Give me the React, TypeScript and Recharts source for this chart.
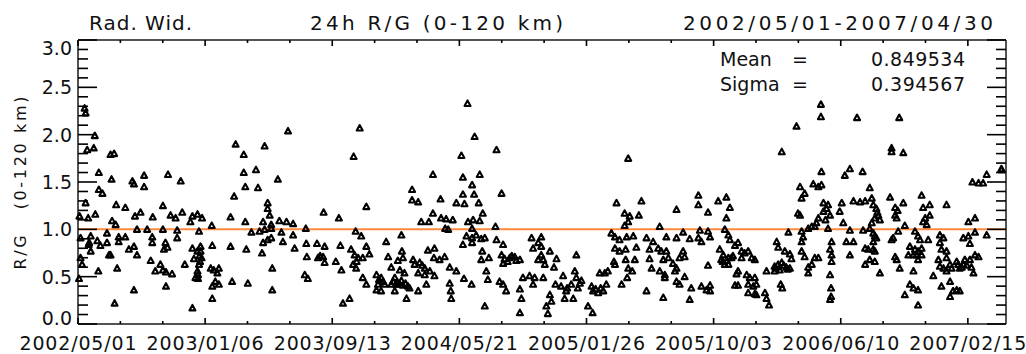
import React from 'react'
import { ScatterChart, Scatter, XAxis, YAxis, ReferenceLine } from 'recharts'

// ---------------------------------------------------------------------------
// Data: [day offset from 2002/05/01, R/G ratio]
// ---------------------------------------------------------------------------

const END_DAY = 1825 // 2007/04/30

const seg2002: [number, number][] = [
  [13, 2.28], [15, 2.23], [33, 1.99], [18, 1.84], [31, 1.86], [64, 1.79], [71, 1.8], [41, 1.6],
  [41, 1.42], [48, 1.38], [66, 1.53], [107, 1.51], [110, 1.48], [130, 1.57], [130, 1.45], [177, 1.58],
  [202, 1.51], [15, 1.28], [75, 1.26], [93, 1.23], [167, 1.25], [3, 1.14], [20, 1.12], [34, 1.16],
  [67, 1.09], [74, 1.05], [112, 1.14], [123, 1.18], [147, 1.13], [182, 1.15], [192, 1.12], [205, 1.18],
  [235, 1.16], [244, 1.12], [263, 1.04], [300, 1.13], [307, 1.35], [5, 0.91], [25, 0.93], [38, 0.88],
  [57, 0.96], [80, 0.92], [93, 0.92], [116, 1.0], [136, 1.0], [146, 0.92], [146, 0.86], [167, 1.0],
  [195, 0.99], [195, 0.91], [21, 0.84], [25, 0.77], [57, 0.86], [80, 0.87], [100, 0.79], [110, 0.82],
  [116, 0.73], [172, 0.86], [176, 0.81], [169, 0.79], [61, 0.73], [64, 0.73], [5, 0.7], [8, 0.63],
  [143, 0.67], [152, 0.56], [162, 0.63], [167, 0.57], [173, 0.55], [185, 0.53], [40, 0.56], [77, 0.59],
  [2, 0.48], [110, 0.36], [173, 0.4], [72, 0.22], [225, 0.17], [210, 0.63], [225, 0.8], [228, 0.69],
  [235, 0.77], [241, 0.82], [241, 0.77], [243, 0.7], [238, 0.63], [235, 0.56], [231, 0.49], [236, 0.48],
  [225, 1.14], [221, 1.08], [238, 0.98], [264, 0.83], [261, 0.59], [267, 0.57], [277, 0.59], [274, 0.54],
  [264, 0.4], [270, 0.45], [277, 0.42], [264, 0.27], [300, 0.82], [303, 0.45], [239, 0.72], [240, 0.66],
  [236, 0.52], [22, 0.86], [44, 0.83],
]

const seg2003: [number, number][] = [
  [310, 1.9], [413, 2.04], [367, 1.88], [326, 1.79], [326, 1.6], [350, 1.63], [329, 1.45], [354, 1.44],
  [393, 1.53], [554, 2.07], [542, 1.77], [567, 1.24], [483, 1.18], [513, 1.12], [373, 1.28], [373, 1.22],
  [377, 1.15], [329, 1.08], [364, 1.08], [380, 1.05], [396, 1.09], [410, 1.08], [423, 1.06], [448, 1.01],
  [341, 0.97], [357, 0.98], [367, 1.0], [380, 1.01], [400, 0.97], [423, 0.94], [546, 0.98], [557, 0.93],
  [331, 0.79], [364, 0.86], [373, 0.89], [380, 0.91], [403, 0.87], [362, 0.75], [426, 0.8], [449, 0.85],
  [470, 0.85], [485, 0.82], [450, 0.71], [472, 0.7], [482, 0.71], [485, 0.65], [507, 0.66], [516, 0.83],
  [518, 0.57], [537, 0.79], [544, 0.73], [541, 0.63], [551, 0.7], [560, 0.7], [567, 0.82], [573, 0.74],
  [547, 0.59], [382, 0.59], [446, 0.52], [452, 0.48], [334, 0.43], [382, 0.36], [521, 0.22], [534, 0.27],
  [560, 0.49], [567, 0.42], [587, 0.52], [590, 0.42], [596, 0.49], [603, 0.42], [587, 0.36], [596, 0.35],
  [592, 0.47], [600, 0.45], [476, 0.72], [548, 0.66],
]

const seg2004: [number, number][] = [
  [766, 2.33], [780, 1.98], [823, 1.84], [754, 1.78], [698, 1.58], [757, 1.55], [790, 1.58], [775, 1.47],
  [657, 1.42], [833, 1.38], [757, 1.37], [779, 1.37], [657, 1.31], [669, 1.29], [713, 1.32], [744, 1.28],
  [760, 1.27], [788, 1.28], [698, 1.17], [796, 1.17], [675, 1.08], [690, 1.08], [714, 1.12], [724, 1.11],
  [737, 1.1], [767, 1.08], [777, 1.1], [790, 1.09], [722, 1.01], [728, 1.0], [775, 1.01], [821, 1.03],
  [636, 0.94], [606, 0.87], [764, 0.93], [775, 0.91], [783, 0.94], [793, 0.9], [800, 0.91], [823, 0.89],
  [836, 0.84], [757, 0.84], [775, 0.86], [795, 0.77], [793, 0.68], [808, 0.7], [610, 0.71], [629, 0.67],
  [637, 0.77], [639, 0.7], [688, 0.78], [701, 0.8], [700, 0.7], [711, 0.68], [721, 0.71], [731, 0.6],
  [744, 0.56], [616, 0.6], [633, 0.57], [642, 0.54], [623, 0.49], [659, 0.68], [662, 0.63], [672, 0.65],
  [682, 0.59], [669, 0.54], [682, 0.52], [701, 0.51], [616, 0.42], [626, 0.42], [633, 0.42], [639, 0.41],
  [649, 0.4], [623, 0.35], [646, 0.27], [669, 0.35], [685, 0.42], [731, 0.43], [733, 0.35], [734, 0.27],
  [759, 0.48], [774, 0.42], [803, 0.56], [806, 0.47], [829, 0.45], [836, 0.42], [842, 0.35], [800, 0.19],
  [833, 0.73], [839, 0.69], [849, 0.7], [859, 0.71], [869, 0.68], [836, 0.64], [869, 0.37], [872, 0.27],
  [869, 0.12], [875, 0.49], [888, 0.51], [898, 0.49], [895, 0.42], [892, 0.91], [895, 0.8], [905, 0.86],
  [905, 0.68], [620, 0.45], [628, 0.44], [636, 0.46], [644, 0.43], [652, 0.38], [845, 0.66], [853, 0.72],
  [862, 0.67], [677, 0.62], [692, 0.56],
]

const seg2005: [number, number][] = [
  [1082, 1.75], [1059, 1.28], [1108, 1.3], [1075, 1.17], [1085, 1.14], [1103, 1.15], [1082, 1.08],
  [1075, 1.04], [1177, 1.21], [1144, 1.03], [911, 0.92], [911, 0.82], [928, 0.77], [911, 0.73],
  [915, 0.68], [918, 0.63], [941, 0.69], [936, 0.6], [980, 0.73], [915, 0.49], [954, 0.51], [977, 0.56],
  [980, 0.49], [970, 0.42], [987, 0.43], [990, 0.46], [939, 0.42], [928, 0.31], [931, 0.24], [921, 0.19],
  [924, 0.11], [960, 0.35], [957, 0.27], [974, 0.27], [1003, 0.19], [1012, 0.12], [1010, 0.4],
  [1013, 0.35], [1023, 0.33], [1033, 0.35], [1039, 0.42], [1026, 0.54], [1036, 0.54], [1042, 0.56],
  [1069, 0.42], [1049, 0.96], [1056, 0.92], [1065, 0.89], [1079, 0.92], [1092, 0.93], [1056, 0.8],
  [1065, 0.77], [1077, 0.79], [1098, 0.81], [1095, 0.68], [1077, 0.68], [1082, 0.59], [1090, 0.56],
  [1054, 0.66], [1056, 0.63], [1080, 0.49], [1118, 0.91], [1131, 0.87], [1124, 0.79], [1124, 0.69],
  [1128, 0.59], [1141, 0.8], [1147, 0.77], [1157, 0.77], [1157, 0.92], [1177, 0.91], [1190, 0.97],
  [1203, 0.9], [1151, 0.68], [1161, 0.7], [1170, 0.64], [1177, 0.59], [1174, 0.56], [1183, 0.7],
  [1190, 0.77], [1193, 0.71], [1154, 0.52], [1154, 0.49], [1144, 0.56], [1177, 0.45], [1183, 0.42],
  [1193, 0.5], [1206, 0.38], [1118, 0.35], [1151, 0.28], [1203, 0.26], [950, 0.4], [962, 0.38],
  [983, 0.38], [1018, 0.37], [1028, 0.38],
]

const seg2006: [number, number][] = [
  [1461, 2.32], [1461, 2.19], [1413, 2.09], [1384, 1.82], [1462, 1.61], [1446, 1.48], [1456, 1.45],
  [1462, 1.47], [1508, 1.57], [1420, 1.45], [1429, 1.38], [1423, 1.33], [1220, 1.36], [1220, 1.26],
  [1239, 1.18], [1259, 1.3], [1275, 1.34], [1282, 1.23], [1275, 1.12], [1416, 1.17], [1420, 1.15],
  [1466, 1.28], [1475, 1.26], [1466, 1.19], [1479, 1.15], [1472, 1.22], [1502, 1.28], [1498, 1.19],
  [1505, 1.07], [1456, 1.12], [1443, 1.03], [1436, 1.01], [1449, 1.03], [1475, 1.01], [1223, 0.99],
  [1239, 0.98], [1243, 0.92], [1272, 1.0], [1279, 0.94], [1220, 0.91], [1226, 0.87], [1397, 0.97],
  [1423, 0.98], [1426, 0.92], [1282, 0.89], [1292, 0.83], [1298, 0.86], [1262, 0.79], [1265, 0.68],
  [1269, 0.73], [1279, 0.7], [1285, 0.7], [1272, 0.63], [1279, 0.63], [1305, 0.77], [1311, 0.75],
  [1318, 0.77], [1305, 0.7], [1325, 0.7], [1331, 0.68], [1374, 0.87], [1377, 0.81], [1390, 0.77],
  [1400, 0.74], [1403, 0.69], [1423, 0.87], [1423, 0.77], [1429, 0.71], [1449, 0.7], [1456, 0.7],
  [1482, 0.87], [1479, 0.79], [1482, 0.73], [1482, 0.66], [1511, 0.87], [1239, 0.62], [1295, 0.53],
  [1298, 0.56], [1315, 0.52], [1321, 0.49], [1331, 0.49], [1354, 0.56], [1370, 0.61], [1377, 0.63],
  [1384, 0.65], [1393, 0.6], [1400, 0.59], [1370, 0.56], [1380, 0.57], [1436, 0.6], [1436, 0.54],
  [1443, 0.63], [1226, 0.4], [1243, 0.41], [1243, 0.35], [1236, 0.36], [1292, 0.41], [1298, 0.41],
  [1318, 0.42], [1328, 0.4], [1334, 0.42], [1318, 0.33], [1331, 0.32], [1334, 0.31], [1351, 0.33],
  [1354, 0.27], [1359, 0.2], [1382, 0.42], [1385, 0.38], [1479, 0.52], [1481, 0.38], [1481, 0.29],
  [1479, 0.26], [1268, 0.66], [1276, 0.67], [1288, 0.72], [1372, 0.59], [1388, 0.62], [1396, 0.58],
  [1452, 1.07], [1470, 1.1],
]

const seg2007: [number, number][] = [
  [1615, 2.18], [1532, 2.18], [1600, 1.86], [1600, 1.82], [1623, 1.81], [1518, 1.64], [1543, 1.61],
  [1816, 1.64], [1816, 1.63], [1787, 1.58], [1759, 1.5], [1771, 1.49], [1780, 1.49], [1557, 1.44],
  [1525, 1.3], [1538, 1.29], [1548, 1.3], [1561, 1.33], [1564, 1.26], [1597, 1.34], [1623, 1.28],
  [1659, 1.36], [1708, 1.26], [1570, 1.22], [1574, 1.15], [1567, 1.12], [1577, 1.1], [1607, 1.23],
  [1607, 1.15], [1610, 1.12], [1662, 1.23], [1675, 1.26], [1675, 1.15], [1666, 1.12], [1662, 1.08],
  [1626, 1.04], [1669, 1.05], [1751, 1.08], [1764, 1.12], [1561, 1.07], [1557, 1.01], [1564, 0.96],
  [1518, 0.99], [1544, 0.99], [1525, 0.87], [1567, 0.93], [1564, 0.87], [1570, 0.91], [1613, 0.98],
  [1600, 0.89], [1603, 0.91], [1646, 0.98], [1652, 0.93], [1656, 0.89], [1672, 0.89], [1695, 0.94],
  [1702, 0.91], [1741, 0.91], [1751, 0.93], [1764, 0.97], [1787, 0.94], [1548, 0.8], [1554, 0.79],
  [1564, 0.79], [1567, 0.77], [1636, 0.82], [1646, 0.79], [1652, 0.77], [1659, 0.8], [1695, 0.86],
  [1698, 0.79], [1708, 0.77], [1708, 0.7], [1754, 0.85], [1764, 0.73], [1771, 0.71], [1518, 0.73],
  [1548, 0.63], [1557, 0.68], [1567, 0.66], [1607, 0.71], [1610, 0.68], [1616, 0.59], [1633, 0.73],
  [1643, 0.73], [1649, 0.73], [1659, 0.73], [1652, 0.68], [1692, 0.68], [1695, 0.61], [1702, 0.59],
  [1708, 0.56], [1715, 0.63], [1718, 0.59], [1728, 0.66], [1734, 0.59], [1741, 0.63], [1744, 0.68],
  [1754, 0.68], [1757, 0.6], [1761, 0.54], [1577, 0.54], [1643, 0.56], [1682, 0.51], [1636, 0.42],
  [1643, 0.38], [1652, 0.36], [1626, 0.31], [1698, 0.4], [1715, 0.45], [1721, 0.35], [1728, 0.36],
  [1734, 0.35], [1715, 0.29], [1652, 0.2], [1731, 0.63], [1738, 0.6], [1748, 0.62], [1572, 1.18],
  [1612, 1.2],
]

const xMajorLabels = [
  '2002/05/01', '2003/01/06', '2003/09/13', '2004/05/21',
  '2005/01/26', '2005/10/03', '2006/06/10', '2007/02/15',
]
const yMajorLabels = ['0.0', '0.5', '1.0', '1.5', '2.0', '2.5', '3.0']

const X_MAJOR_STEP = 250
const Y_MAJOR_STEP = 0.5
const Y_MAX = 3
const REF_LEVEL = 1.0

const statLabels = ['Mean', 'Sigma']
const statValues = ['0.849534', '0.394567']

// ---------------------------------------------------------------------------
// Layout & styling
// ---------------------------------------------------------------------------

const W = 1026
const H = 354
const MARGIN = { top: 30, right: 10, bottom: 0, left: 18 }
const TOP_AXIS_H = 10
const BOTTOM_AXIS_H = 30
const LEFT_AXIS_W = 60
const RIGHT_AXIS_W = 10

// plot frame implied by the margins and axis sizes above
const PLOT = {
  left: MARGIN.left + LEFT_AXIS_W,
  right: W - MARGIN.right - RIGHT_AXIS_W,
  top: MARGIN.top + TOP_AXIS_H,
  bottom: H - MARGIN.bottom - BOTTOM_AXIS_H,
}

const FONT = 'DejaVu Sans'
const AXIS = '#1a1a1a'
const TEXT = '#111'
const ORANGE = '#ff8a3d'

const points = [...seg2002, ...seg2003, ...seg2004, ...seg2005, ...seg2006, ...seg2007].map(
  ([day, ratio]) => ({ day, ratio })
)

// minor ticks: 3 per major interval on x, 5 on y
const xMinorTicks = Array.from({ length: 22 }, (_, i) => (i * X_MAJOR_STEP) / 3)
const yMinorTicks = Array.from({ length: 31 }, (_, i) => i / 10)
const xMajorTicks = xMajorLabels.map((_, i) => i * X_MAJOR_STEP)
const yMajorTicks = yMajorLabels.map((_, i) => i * Y_MAJOR_STEP)

const isMajor = (v: number, step: number) => Math.abs(v / step - Math.round(v / step)) < 1e-6
const px = (day: number) => PLOT.left + (day / END_DAY) * (PLOT.right - PLOT.left)
const py = (r: number) => PLOT.bottom - (r / Y_MAX) * (PLOT.bottom - PLOT.top)

function BottomLabel({ x, y, payload }: any) {
  return (
    <text
      x={x}
      y={y + 26}
      textAnchor="middle"
      fontFamily={FONT}
      fontSize={19}
      fill={TEXT}
      textLength={117}
      lengthAdjust="spacing"
    >
      {xMajorLabels[Math.round(payload.value / X_MAJOR_STEP)]}
    </text>
  )
}

function LeftLabel({ x, y, payload }: any) {
  const v = payload.value
  // IDL keeps the end labels inside the frame
  const shift = v === 0 ? -6 : v === Y_MAX ? 8 : 0
  return (
    <text x={x - 6} y={y + 7 + shift} textAnchor="end" fontFamily={FONT} fontSize={19} fill={TEXT}>
      {yMajorLabels[Math.round(v / Y_MAJOR_STEP)]}
    </text>
  )
}

function Triangle({ cx, cy }: any) {
  if (cx == null || cy == null) return null
  return (
    <polygon
      points={`${cx - 3},${cy + 2.5} ${cx + 3},${cy + 2.5} ${cx},${cy - 3}`}
      fill="none"
      stroke="#000"
      strokeWidth={2.1}
      strokeLinejoin="round"
    />
  )
}

// IDL-style inward tick marks on all four sides of the frame, as thin filled bars
function FrameTicks() {
  const bars: { x: number; y: number; w: number; h: number }[] = []
  const t = 1.6
  for (const v of xMinorTicks) {
    const len = isMajor(v, X_MAJOR_STEP) ? 6 : 3
    const x = px(v) - t / 2
    bars.push({ x, y: PLOT.bottom - len, w: t, h: len })
    bars.push({ x, y: PLOT.top, w: t, h: len })
  }
  for (const v of yMinorTicks) {
    const len = isMajor(v, Y_MAJOR_STEP) ? 19 : 10
    const y = py(v) - t / 2
    bars.push({ x: PLOT.left, y, w: len, h: t })
    bars.push({ x: PLOT.right - len, y, w: len, h: t })
  }
  return (
    <g>
      {bars.map((b, i) => (
        <rect key={i} x={b.x} y={b.y} width={b.w} height={b.h} fill="#000" />
      ))}
    </g>
  )
}

export default function App() {
  return (
    <div style={{ position: 'absolute', left: 0, top: 0, width: W, height: H, background: '#fff' }}>
      <ScatterChart width={W} height={H} margin={MARGIN}>
        <XAxis
          xAxisId="b"
          type="number"
          dataKey="day"
          domain={[0, END_DAY]}
          ticks={xMajorTicks}
          interval={0}
          tickSize={0}
          tickMargin={0}
          tickLine={false}
          tick={(p: any) => <BottomLabel {...p} />}
          height={BOTTOM_AXIS_H}
          axisLine={{ stroke: AXIS, strokeWidth: 1.5 }}
        />
        <XAxis
          xAxisId="t"
          orientation="top"
          type="number"
          domain={[0, END_DAY]}
          tick={false}
          tickLine={false}
          height={TOP_AXIS_H}
          axisLine={{ stroke: AXIS, strokeWidth: 1.5 }}
        />
        <YAxis
          yAxisId="l"
          type="number"
          dataKey="ratio"
          domain={[0, Y_MAX]}
          ticks={yMajorTicks}
          interval={0}
          tickSize={0}
          tickMargin={0}
          tickLine={false}
          tick={(p: any) => <LeftLabel {...p} />}
          width={LEFT_AXIS_W}
          axisLine={{ stroke: AXIS, strokeWidth: 1.5 }}
        />
        <YAxis
          yAxisId="r"
          orientation="right"
          type="number"
          domain={[0, Y_MAX]}
          tick={false}
          tickLine={false}
          width={RIGHT_AXIS_W}
          axisLine={{ stroke: AXIS, strokeWidth: 1.5 }}
        />
        <Scatter
          xAxisId="b"
          yAxisId="l"
          data={points}
          dataKey="ratio"
          isAnimationActive={false}
          shape={(p: any) => <Triangle {...p} />}
        />
        <ReferenceLine xAxisId="b" yAxisId="l" y={REF_LEVEL} stroke={ORANGE} strokeWidth={2} />
      </ScatterChart>

      <svg
        width={W}
        height={H}
        style={{ position: 'absolute', left: 0, top: 0, pointerEvents: 'none' }}
        fontFamily={FONT}
        fill={TEXT}
      >
        <FrameTicks />
        <text x={89} y={30} fontSize={20} textLength={103} lengthAdjust="spacing">
          Rad. Wid.
        </text>
        <text x={310} y={30} fontSize={20} textLength={253} lengthAdjust="spacing">
          24h R/G (0-120 km)
        </text>
        <text x={683} y={30} fontSize={20} textLength={310} lengthAdjust="spacing">
          2002/05/01-2007/04/30
        </text>
        <text
          x={26}
          y={183}
          fontSize={16}
          textAnchor="middle"
          transform="rotate(-90, 26, 183)"
          textLength={173}
          lengthAdjust="spacing"
          style={{ whiteSpace: 'pre' }}
        >
          {'R/G   (0-120 km)'}
        </text>
        {statLabels.map((label, i) => (
          <g key={label}>
            <text x={720} y={66 + i * 25} fontSize={19}>
              {label}
            </text>
            <text x={792} y={66 + i * 25} fontSize={19}>
              =
            </text>
            <text x={965} y={66 + i * 25} fontSize={19} textAnchor="end" textLength={94} lengthAdjust="spacing">
              {statValues[i]}
            </text>
          </g>
        ))}
      </svg>
    </div>
  )
}
